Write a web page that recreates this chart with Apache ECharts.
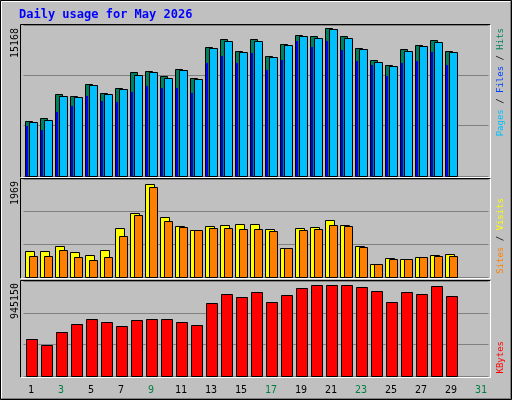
<!DOCTYPE html>
<html><head><meta charset="utf-8">
<script src="https://cdn.jsdelivr.net/npm/echarts@6/dist/echarts.min.js"></script>
<style>html,body{margin:0;padding:0;background:#c0c0c0}#c{width:512px;height:400px}</style>
</head><body><div id="c"></div>
<script>
var days = ['1','2','3','4','5','6','7','8','9','10','11','12','13','14','15','16','17','18','19','20','21','22','23','24','25','26','27','28','29','30','31'];
var weekend = ['2','3','9','10','16','17','23','24','30','31'];
var hits  = [5560,5800,8200,8070,9210,8310,8810,10420,10520,10020,10720,9820,12930,13740,12530,13740,12030,13230,14140,14040,14840,14040,12830,11620,11120,12730,13130,13630,12530];
var files = [5460,5600,8000,7900,9110,8210,8710,10120,10420,9820,10620,9720,12830,13540,12430,13540,11930,13130,14040,13840,14740,13840,12730,11420,11020,12530,13030,13430,12430];
var pages = [4990,4590,6400,7000,8010,7510,7410,8410,9010,8810,8810,8310,11320,12030,11320,12330,10620,11620,13530,12930,13530,12630,11520,11120,10020,11320,11520,12430,11120];
var visits = [529,529,616,509,449,549,978,1280,1863,1199,1018,938,1018,1039,1059,1059,958,576,978,998,1139,1039,616,255,375,355,395,436,456];
var sites  = [415,415,536,395,335,395,817,1240,1802,1119,998,938,978,978,958,958,918,576,938,958,1039,1018,596,255,355,355,395,415,415];
var kbytes = [375000,315000,444000,524000,574000,544000,504000,564000,574000,574000,544000,514000,733000,822000,793000,842000,743000,812000,882000,912000,912000,912000,892000,852000,743000,842000,822000,902000,802000];
var maxHits = 15168, maxVisits = 1969, maxKB = 945150;

var chart = echarts.init(document.getElementById('c'));
var mono = 'DejaVu Sans Mono';
function rect(x0,x1,y0,y1,fill,stroke){
  return {type:'rect',shape:{x:x0,y:Math.min(y0,y1),width:x1-x0,height:Math.abs(y1-y0)},
    style:{fill:fill,stroke:stroke||null,lineWidth:stroke?1:0}};
}
function topItem(p,api){
  var i=api.value(0), b=api.coord([i,0]), x=Math.round(b[0])+0.5, y0=Math.round(b[1])+0.5;
  var yh=Math.round(api.coord([i,api.value(1)])[1])+0.5;
  var yf=Math.round(api.coord([i,api.value(2)])[1])+0.5;
  var yp=Math.round(api.coord([i,api.value(3)])[1]);
  return {type:'group',children:[
    rect(x-6,x+1,yh,y0,'#00805c','#000'),
    {type:'rect',shape:{x:x-5.5,y:yp,width:2,height:y0-yp},style:{fill:'#0000ff'}},
    rect(x-2,x+6,yf,y0,'#00bfff','#000')
  ]};
}
function midItem(p,api){
  var i=api.value(0), b=api.coord([i,0]), x=Math.round(b[0])+0.5, y0=Math.round(b[1])+0.5;
  var yv=Math.round(api.coord([i,api.value(1)])[1])+0.5;
  var ys=Math.round(api.coord([i,api.value(2)])[1])+0.5;
  return {type:'group',children:[
    rect(x-6,x+3,yv,y0,'#ffff00','#000'),
    rect(x-2,x+6,ys,y0,'#ff8000','#000')
  ]};
}
function botItem(p,api){
  var i=api.value(0), b=api.coord([i,0]), x=Math.round(b[0])+0.5, y0=Math.round(b[1])+0.5;
  var yk=Math.round(api.coord([i,api.value(1)])[1])+0.5;
  return rect(x-5,x+6,yk,y0,'#ff0000','#000');
}
var topData=[], midData=[], botData=[];
for (var i=0;i<hits.length;i++){
  topData.push([i,hits[i],files[i],pages[i]]);
  midData.push([i,visits[i],sites[i]]);
  botData.push([i,kbytes[i]]);
}
function xAxis(g,show){
  return {type:'category',gridIndex:g,data:days,boundaryGap:true,
    axisLine:{show:false},axisTick:{show:false},
    axisLabel:{show:show,margin:9,fontFamily:mono,fontSize:10,
      color:function(v){return weekend.indexOf(v)>=0?'#008040':'#000';}}};
}
function yAxis(g,max){
  return {type:'value',gridIndex:g,min:0,max:max,interval:max/3,
    axisLine:{show:false},axisTick:{show:false},axisLabel:{show:false},
    splitLine:{show:true,lineStyle:{color:'#808080',width:1}}};
}
function frame(y0,y1){
  return [
    {type:'line',shape:{x1:20.5,y1:y0+0.5,x2:490.5,y2:y0+0.5},style:{stroke:'#000',lineWidth:1}},
    {type:'line',shape:{x1:20.5,y1:y0+0.5,x2:20.5,y2:y1+0.5},style:{stroke:'#000',lineWidth:1}},
    {type:'line',shape:{x1:20.5,y1:y1+0.5,x2:490.5,y2:y1+0.5},style:{stroke:'#fff',lineWidth:1}},
    {type:'line',shape:{x1:490.5,y1:y0+0.5,x2:490.5,y2:y1+0.5},style:{stroke:'#fff',lineWidth:1}}
  ];
}
function vtext(x,y,rich,text){
  return {type:'text',x:x,y:y,rotation:Math.PI/2,z:10,
    style:{text:text,rich:rich,font:'10px '+mono,align:'right',verticalAlign:'middle',fill:'#000'}};
}
var graphics = [
  {type:'rect',shape:{x:0.5,y:0.5,width:511,height:399},style:{fill:null,stroke:'#000',lineWidth:1},z:10},
  {type:'polyline',shape:{points:[[1.5,398.5],[1.5,1.5],[510.5,1.5]]},style:{fill:null,stroke:'#fff'},z:10},
  {type:'polyline',shape:{points:[[510.5,1.5],[510.5,398.5],[1.5,398.5]]},style:{fill:null,stroke:'#808080'},z:10},
  {type:'text',x:19,y:15,style:{text:'Daily usage for May 2026',font:'bold 12px '+mono,fill:'#0000ff',verticalAlign:'middle'}},
  vtext(15,28,{},String(maxHits)),
  vtext(15,181,{},String(maxVisits)),
  vtext(15,283,{},String(maxKB)),
  {type:'text',x:501,y:28,rotation:Math.PI/2,style:{text:'{p|Pages}{s| / }{f|Files}{s| / }{h|Hits}',
    rich:{p:{fill:'#00c0ff',font:'9px '+mono},f:{fill:'#0040ff',font:'9px '+mono},h:{fill:'#00805c',font:'9px '+mono},s:{fill:'#000',font:'9px '+mono}},
    align:'right',verticalAlign:'middle'}},
  {type:'text',x:501,y:198,rotation:Math.PI/2,style:{text:'{a|Sites}{s| / }{b|Visits}',
    rich:{a:{fill:'#ff8000',font:'9px '+mono},b:{fill:'#ffff00',font:'9px '+mono},s:{fill:'#000',font:'9px '+mono}},
    align:'right',verticalAlign:'middle'}},
  {type:'text',x:501,y:341,rotation:Math.PI/2,style:{text:'KBytes',fill:'#ff0000',font:'9px '+mono,align:'right',verticalAlign:'middle'}}
].concat(frame(24,177),frame(178,278),frame(280,377));

chart.setOption({
  backgroundColor:'#c0c0c0',
  animation:false,
  grid:[
    {left:23.5,width:465,top:25,height:151},
    {left:23.5,width:465,top:179,height:98},
    {left:23.5,width:465,top:281.5,height:94.5}
  ],
  xAxis:[xAxis(0,false),xAxis(1,false),xAxis(2,true)],
  yAxis:[yAxis(0,maxHits),yAxis(1,maxVisits),yAxis(2,maxKB)],
  series:[
    {type:'custom',xAxisIndex:0,yAxisIndex:0,renderItem:topItem,data:topData,clip:false},
    {type:'custom',xAxisIndex:1,yAxisIndex:1,renderItem:midItem,data:midData,clip:false},
    {type:'custom',xAxisIndex:2,yAxisIndex:2,renderItem:botItem,data:botData,clip:false}
  ],
  graphic:graphics
});
</script></body></html>
